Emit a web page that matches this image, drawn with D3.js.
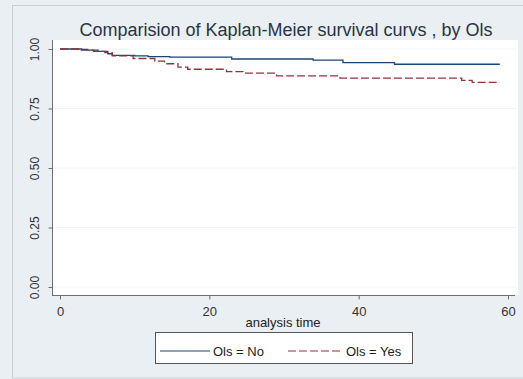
<!DOCTYPE html>
<html>
<head>
<meta charset="utf-8">
<script src="https://cdn.jsdelivr.net/npm/d3@7"></script>
<style>
  body { margin: 0; background: #e9eff2; }
  svg { display: block; font-family: "Liberation Sans", Arial, sans-serif; }
</style>
</head>
<body>
<svg width="523" height="379"></svg>
<script>
// Kaplan-Meier estimates
var noTime = [0, 2.9, 3.7, 5.1, 6.4, 7.0, 10.0, 11.8, 14.7, 23.0, 33.9, 37.9, 44.8, 58.9];
var noSurv = [1.0, 0.998, 0.995, 0.99, 0.98, 0.973, 0.971, 0.968, 0.966, 0.958, 0.953, 0.943, 0.936, 0.936];

var yesTime = [0, 2.7, 4.5, 6.0, 7.0, 9.8, 12.7, 14.0, 15.8, 17.1, 22.3, 24.5, 29.0, 37.5, 53.8, 55.2, 58.9];
var yesSurv = [1.0, 0.995, 0.99, 0.985, 0.971, 0.96, 0.949, 0.938, 0.924, 0.915, 0.905, 0.899, 0.887, 0.878, 0.868, 0.86, 0.86];

var xTicks = [0, 20, 40, 60];
var yTicks = [0, 0.25, 0.5, 0.75, 1];
var legendLabels = ["Ols = No", "Ols = Yes"];

var svg = d3.select("svg");

// outer frame
svg.append("rect").attr("x", 12.5).attr("y", 5.5).attr("width", 520).attr("height", 372.5)
    .attr("fill", "#e9eff2").attr("stroke", "#c9cfd2");

// plot region
svg.append("rect").attr("x", 52).attr("y", 40).attr("width", 466).attr("height", 255)
    .attr("fill", "#ffffff");

var x = d3.scaleLinear().domain([0, 60]).range([60, 508]);
var y = d3.scaleLinear().domain([0, 1]).range([287, 49]);

// faint grid
svg.append("g").selectAll("line").data(yTicks).enter().append("line")
    .attr("x1", 53).attr("x2", 517)
    .attr("y1", function(d) { return y(d); }).attr("y2", function(d) { return y(d); })
    .attr("stroke", "#f1f4f6");

var xAxis = svg.append("g")
    .attr("transform", "translate(0,295.5)")
    .call(d3.axisBottom(x).tickValues(xTicks).tickSize(4).tickPadding(4).tickSizeOuter(0));
xAxis.select(".domain").attr("d", "M52,0H515").attr("stroke", "#6e6e6e");

var yAxis = svg.append("g")
    .attr("transform", "translate(52.5,0)")
    .call(d3.axisLeft(y).tickValues(yTicks).tickFormat(d3.format(".2f")).tickSize(4).tickSizeOuter(0));
yAxis.select(".domain").attr("d", "M0,40V295").attr("stroke", "#6e6e6e");

svg.selectAll(".tick line").attr("stroke", "#6e6e6e");
svg.selectAll(".tick text").attr("fill", "#333");
yAxis.selectAll(".tick text")
    .style("font-size", "12px")
    .attr("x", null).attr("dy", null)
    .attr("text-anchor", "middle")
    .attr("transform", "translate(-13.5,0) rotate(-90)");
xAxis.selectAll(".tick text")
    .style("font-size", "13px")
    .attr("y", null).attr("dy", null)
    .attr("transform", "translate(0,20.5)");

// curves
var line = d3.line()
    .x(function(d) { return x(d[0]); })
    .y(function(d) { return y(d[1]); })
    .curve(d3.curveStepAfter);

svg.append("path")
    .datum(d3.zip(noTime, noSurv))
    .attr("d", line)
    .attr("fill", "none")
    .attr("stroke", "#1a476f")
    .attr("stroke-width", 1.3);

svg.append("path")
    .datum(d3.zip(yesTime, yesSurv))
    .attr("d", line)
    .attr("fill", "none")
    .attr("stroke", "#90353b")
    .attr("stroke-width", 1.3)
    .attr("stroke-dasharray", "8,3");

// title
svg.append("text")
    .attr("x", 286).attr("y", 36)
    .attr("text-anchor", "middle")
    .attr("fill", "#2a3444")
    .style("font-size", "18px")
    .text("Comparision of Kaplan-Meier survival curvs , by Ols");

// axis title
svg.append("text")
    .attr("x", 283).attr("y", 327)
    .attr("text-anchor", "middle")
    .attr("fill", "#222")
    .style("font-size", "13px")
    .text("analysis time");

// legend
svg.append("rect").attr("x", 155.5).attr("y", 332.5).attr("width", 257).attr("height", 31)
    .attr("fill", "#ffffff").attr("stroke", "#555");

var leg = [
  { x1: 160, x2: 210, tx: 213, color: "#1a476f", dash: null, label: legendLabels[0] },
  { x1: 288, x2: 342, tx: 346, color: "#90353b", dash: "8,3", label: legendLabels[1] }
];
leg.forEach(function(d) {
  svg.append("line").attr("x1", d.x1).attr("x2", d.x2).attr("y1", 351).attr("y2", 351)
      .attr("stroke", d.color).attr("stroke-width", 1.2).attr("stroke-dasharray", d.dash);
  svg.append("text").attr("x", d.tx).attr("y", 356)
      .attr("fill", "#222").style("font-size", "13px").text(d.label);
});
</script>
</body>
</html>
